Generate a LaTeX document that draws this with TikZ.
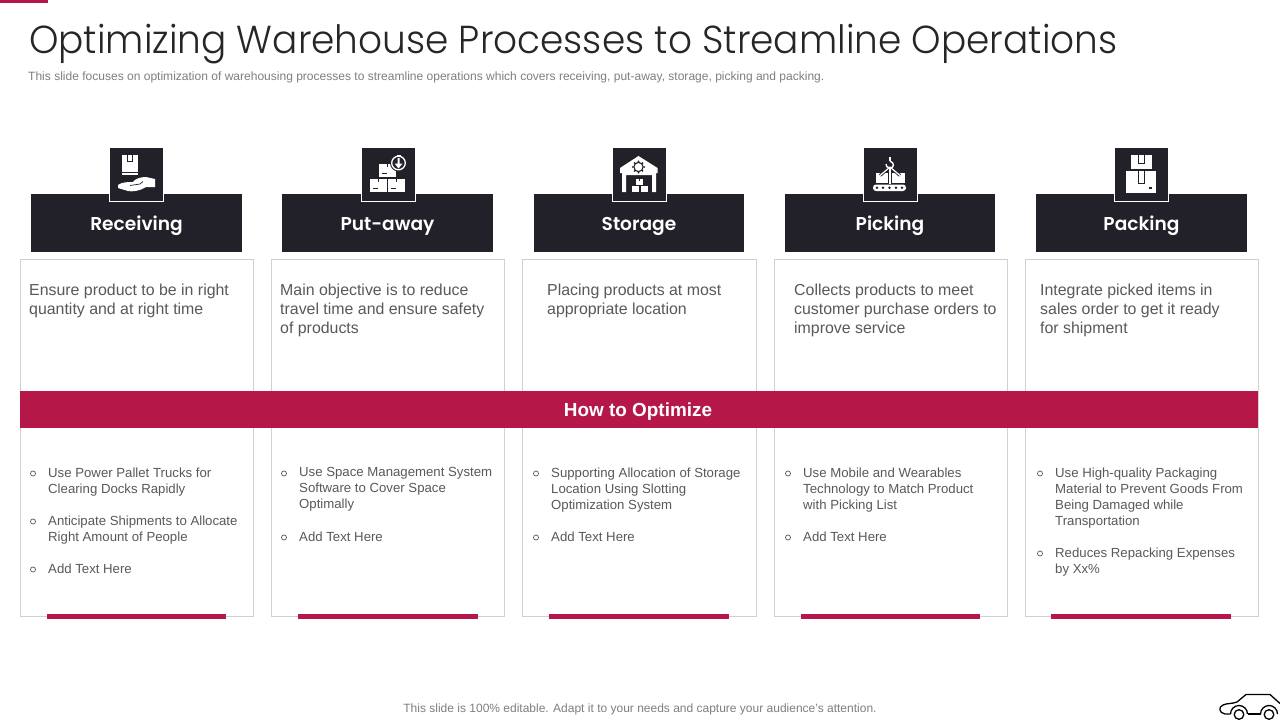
\documentclass[tikz,border=0pt]{standalone}
\usetikzlibrary{calc}
\usepackage{fontspec}
\setmainfont{Liberation Sans}
\newfontfamily\titlefont[UprightFont=* Light,FakeStretch=0.96]{Poppins}
\newfontfamily\headfont[UprightFont=* SemiBold]{Poppins}
\definecolor{darkbox}{HTML}{222129}
\definecolor{crimson}{HTML}{B51848}
\definecolor{cardline}{HTML}{D0D0D0}
\definecolor{bodytext}{HTML}{595959}
\definecolor{subtext}{HTML}{7F7F7F}
\definecolor{titletext}{HTML}{262626}
\tikzset{
  card/.style={draw=cardline,line width=1pt,fill=white},
  headbox/.style={fill=darkbox},
  iconbox/.style={fill=darkbox,draw=white,line width=1pt},
  accent/.style={fill=crimson},
  headtext/.style={anchor=base,text=white,inner sep=0pt,font=\headfont\fontsize{18.6}{22}\selectfont},
  desc/.style={anchor=north west,inner sep=0pt,align=left,text=bodytext,font=\fontsize{15.9}{19}\selectfont},
  point/.style={anchor=north west,inner sep=0pt,align=left,text=bodytext,font=\fontsize{13.2}{16}\selectfont},
  bul/.style={circle,draw=bodytext,line width=.7pt,inner sep=0pt,minimum size=5pt},
  iconw/.style={fill=white,draw=none},
  icond/.style={fill=darkbox,draw=none},
  carline/.style={draw=black,line width=1.3pt,line join=round},
}
\newcommand{\cardcol}[8]{%
  \path[card] (#2,259.5) rectangle (#3,616.5);
  \path[accent] (#7,614) rectangle (#8,619);
  \path[headbox] (#4,194) rectangle (#5,252);
  \node[headtext] (#1head) at ({(#4+#5)/2},230) {#6};
}
\newcommand{\iconsq}[2]{\node[iconbox,minimum size=54pt,inner sep=0pt] (#1) at (#2,174.5) {};}
\begin{document}
\begin{tikzpicture}[x=1pt,y=-1pt]
\useasboundingbox (0,0) rectangle (1280,720);
\fill[white] (0,0) rectangle (1280,720);
\path[accent] (0,0) rectangle (48,3);
\node[anchor=base west,inner sep=0pt,text=titletext,font=\titlefont\fontsize{39}{46}\selectfont] (title) at (29,53) {Optimizing Warehouse Processes to Streamline Operations};
\node[anchor=base west,inner sep=0pt,text=subtext,font=\fontsize{12.03}{14}\selectfont] (subtitle) at (28,80.5) {This slide focuses on optimization of warehousing processes to streamline operations which covers receiving, put-away, storage, picking and packing.};

\cardcol{a}{20.5}{253.5}{31}{242}{Receiving}{47}{226}
\cardcol{b}{271.5}{504.5}{282}{493}{Put-away}{298}{478}
\cardcol{c}{522.5}{756.5}{534}{744}{Storage}{549}{729}
\cardcol{d}{774.5}{1007.5}{785}{995}{Picking}{801}{980}
\cardcol{e}{1025.5}{1258.5}{1036}{1247}{Packing}{1051}{1231}

\path[accent] (20,391) rectangle (1258,428);
\node[anchor=base,text=white,inner sep=0pt,font=\bfseries\fontsize{18.9}{23}\selectfont] (band) at (638,416) {How to Optimize};

\iconsq{ia}{136.5}
\iconsq{ib}{388.5}
\iconsq{ic}{639.5}
\iconsq{id}{890.5}
\iconsq{ie}{1141.5}

% descriptions
\node[desc] (da) at (29,284) {Ensure product to be in right\\quantity and at right time};
\node[desc] (db) at (280,284) {Main objective is to reduce\\travel time and ensure safety\\of products};
\node[desc] (dc) at (547,284) {Placing products at most\\appropriate location};
\node[desc] (dd) at (794,284) {Collects products to meet\\customer purchase orders to\\improve service};
\node[desc] (de) at (1040,284) {Integrate picked items in\\sales order to get it ready\\for shipment};

% points
\node[point] (pa1) at (48,467.5) {Use Power Pallet Trucks for\\Clearing Docks Rapidly};
\node[point] (pa2) at (48,515.5) {Anticipate Shipments to Allocate\\Right Amount of People};
\node[point] (pa3) at (48,563.5) {Add Text Here};
\node[point] (pb1) at (299,467.5) {Use Space Management System\\Software to Cover Space\\Optimally};
\node[point] (pb2) at (299,531.5) {Add Text Here};
\node[point] (pc1) at (551,467.5) {Supporting Allocation of Storage\\Location Using Slotting\\Optimization System};
\node[point] (pc2) at (551,531.5) {Add Text Here};
\node[point] (pd1) at (803,467.5) {Use Mobile and Wearables\\Technology to Match Product\\with Picking List};
\node[point] (pd2) at (803,531.5) {Add Text Here};
\node[point] (pe1) at (1055,467.5) {Use High-quality Packaging\\Material to Prevent Goods From\\Being Damaged while\\Transportation};
\node[point] (pe2) at (1055,547.5) {Reduces Repacking Expenses\\by Xx\%};

\foreach \x/\y in {33/473.5,33/521.5,33/569.5,284/473.5,284/537.5,536/473.5,536/537.5,788/473.5,788/537.5,1040/473.5,1040/553.5}
  \node[bul] at (\x,\y) {};

% Receiving icon
\fill[iconw] (122,155) rectangle (138,171.5);
\draw[darkbox,line width=.8pt] (127.5,155) -- (127.5,161) -- (132.5,161) -- (132.5,155);
\fill[iconw] (122,173) rectangle (138,175);
\fill[iconw] (118,185) .. controls (122,182) and (128,182) .. (133,182) .. controls (135,179) and (140,177) .. (146,177) -- (155,179) -- (155,187) -- (146,187) .. controls (140,191) and (132,192) .. (128,191) -- (118,188) -- cycle;
\draw[darkbox,line width=.7pt] (130,185.5) -- (140,184) -- (143,181.5);

% Put-away icon
\fill[iconw] (370,178.5) rectangle (387,192);
\fill[iconw] (388,178.5) rectangle (405,192);
\fill[iconw] (379,164) rectangle (396,177);
\foreach \x/\y in {378.5/178.5,396.5/178.5,387.5/164} \fill[icond] (\x-.6,\y) rectangle (\x+.6,\y+3);
\fill[icond] (373,188) rectangle (378,189);
\fill[icond] (391,188) rectangle (396,189);
\fill[icond] (382,173) rectangle (387,174);
\fill[icond] (398.5,163) circle (8.5);
\draw[white,line width=1.3pt] (398.5,163) circle (6.8);
\fill[iconw] (397.5,158) -- (399.5,158) -- (399.5,163.5) -- (402.5,163.5) -- (398.5,168.5) -- (394.5,163.5) -- (397.5,163.5) -- cycle;
\fill[iconw] (396.5,154.5) rectangle (400.5,156);

% Storage icon
\fill[iconw] (638.5,156) -- (620,168) -- (620,173) -- (622,173) -- (622,192) -- (626,192) -- (626,175) -- (652,175) -- (652,192) -- (656,192) -- (656,173) -- (657.5,173) -- (657.5,168) -- cycle;
\draw[darkbox,line width=1.1pt] (638.5,167) circle (4.6);
\foreach \a in {0,45,...,315} \fill[icond] ($(638.5,167)+(\a:5.6)$) circle (1);
\fill[iconw] (636,178.5) rectangle (643,184.5);
\fill[iconw] (632,186) rectangle (639,192);
\fill[iconw] (640.5,186) rectangle (647.5,192);
\fill[icond] (639,178.5) rectangle (640,181);

% Picking icon
\fill[iconw] (876,173) rectangle (888,183);
\fill[iconw] (892,173) rectangle (904.5,183);
\draw[darkbox,line width=3pt] (890,167) -- (880,175.5);
\draw[darkbox,line width=3pt] (890,167) -- (900,175.5);
\draw[white,line width=1.2pt] (890,167) -- (880,175.5);
\draw[white,line width=1.2pt] (890,167) -- (900,175.5);
\draw[white,line width=1.2pt] (890,157) -- (890,161);
\draw[white,line width=1.4pt] (890,161) .. controls (895,163) and (894,168) .. (890,168) .. controls (887,168) and (886,166) .. (886,164);
\draw[white,line width=1.4pt] (890,168) -- (890,184);
\fill[iconw,rounded corners=3pt] (873,184.5) rectangle (906,191);
\foreach \x in {877,883,889.5,896,902} \fill[icond] (\x,187.75) circle (1.3);

% Packing icon
\fill[iconw] (1131,155) rectangle (1152,169);
\fill[iconw] (1126,171) rectangle (1156,193);
\draw[darkbox,line width=.9pt] (1138.5,155) -- (1138.5,163) -- (1144.5,163) -- (1144.5,155);
\draw[darkbox,line width=.9pt] (1138.5,171) -- (1138.5,183) -- (1144.5,183) -- (1144.5,171);
\fill[icond] (1149,187) rectangle (1152,189);

% footer
\node[anchor=base,inner sep=0pt,text=subtext,font=\fontsize{12}{14}\selectfont] (footer) at (640,712.5) {This slide is 100\% editable. Adapt it to your needs and capture your audience's attention.};

% car
\path[carline] (1230.5,714) -- (1225,714) .. controls (1219,713) and (1218,707) .. (1223,705) .. controls (1227,703) and (1232,704) .. (1237,702) -- (1246,694.5) -- (1270,694.5) -- (1280,703.5);
\path[carline] (1247.5,714) -- (1260.5,714);
\path[carline] (1239,714.5) circle (4.8);
\path[carline] (1269,714.5) circle (4.8);
\path[carline] (1230.5,714) arc (180:360:8.5);
\path[carline] (1260.5,714) arc (180:360:8.5);
\end{tikzpicture}
\end{document}
